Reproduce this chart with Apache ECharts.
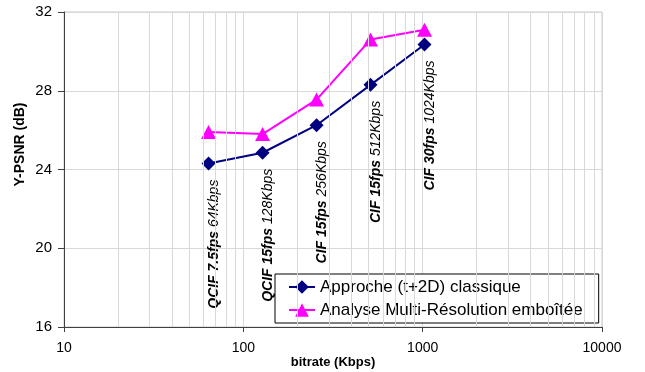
<!DOCTYPE html>
<html><head><meta charset="utf-8">
<script src="https://cdn.jsdelivr.net/npm/echarts@6/dist/echarts.min.js"></script>
<style>html,body{margin:0;padding:0;background:#fff}#c{width:645px;height:372px}</style>
</head><body><div id="c"></div>
<script>
const bitrates = [64, 128, 256, 512, 1024];
const formats = ['QCIF 7.5fps', 'QCIF 15fps', 'CIF 15fps', 'CIF 15fps', 'CIF 30fps'];
const rateLabels = ['64Kbps', '128Kbps', '256Kbps', '512Kbps', '1024Kbps'];
const classique = [24.3, 24.85, 26.25, 28.3, 30.35];
const multiRes = [25.9, 25.8, 27.55, 30.6, 31.1];
const seriesNames = ['Approche (t+2D) classique', 'Analyse Multi-Résolution emboîtée'];
const minorGrid = [20, 30, 40, 50, 60, 70, 80, 90, 200, 300, 400, 500, 600, 700, 800, 900, 2000, 3000, 4000, 5000, 6000, 7000, 8000, 9000];

const FONT = '"Liberation Sans", Arial, sans-serif';
const el = document.getElementById('c');
const chart = echarts.init(el, null, {renderer: 'canvas'});

const pts = a => a.map((v, i) => [bitrates[i], v]);

chart.setOption({
  animation: false,
  backgroundColor: '#fff',
  textStyle: {fontFamily: FONT},
  grid: {left: 64, right: 43, top: 12, bottom: 45, show: true, borderColor: '#c8c8c8', borderWidth: 1,
         containLabel: false, outerBoundsMode: 'none'},
  xAxis: {
    type: 'log', logBase: 10, min: 10, max: 10000,
    name: 'bitrate (Kbps)', nameLocation: 'middle', nameGap: 29, nameMoveOverlap: false,
    nameTextStyle: {fontFamily: FONT, fontSize: 13, fontWeight: 'bold', color: '#000'},
    axisLine: {show: true, lineStyle: {color: '#404040', width: 1}},
    axisTick: {show: true, length: 5, lineStyle: {color: '#404040'}},
    axisLabel: {fontFamily: FONT, fontSize: 14, color: '#000', margin: 14, formatter: v => String(Math.round(v))},
    splitLine: {show: true, lineStyle: {color: '#d9d9d9', width: 1}},
    minorTick: {show: false}, minorSplitLine: {show: false}
  },
  yAxis: {
    type: 'value', min: 16, max: 32, interval: 4,
    name: 'Y-PSNR (dB)', nameLocation: 'middle', nameGap: 37, nameMoveOverlap: false,
    nameTextStyle: {fontFamily: FONT, fontSize: 14, fontWeight: 'bold', color: '#000', padding: [0, 0, 0, 50]},
    axisLine: {show: true, lineStyle: {color: '#404040', width: 1}},
    axisTick: {show: true, length: 6, lineStyle: {color: '#404040'}},
    axisLabel: {fontFamily: FONT, fontSize: 15, color: '#000', margin: 12},
    splitLine: {show: true, lineStyle: {color: '#d9d9d9', width: 1}}
  },
  legend: {
    orient: 'vertical', left: 275, top: 274,
    padding: [4, 16, 4, 13], itemGap: 5, itemWidth: 26, itemHeight: 17,
    backgroundColor: '#fff', borderColor: '#000', borderWidth: 1,
    selectedMode: false,
    textStyle: {fontFamily: FONT, fontSize: 17, color: '#000', lineHeight: 18},
    data: seriesNames
  },
  series: [
    {
      type: 'line', data: [], z: 1, silent: true,
      markLine: {
        silent: true, symbol: 'none', animation: false,
        label: {show: false},
        lineStyle: {color: '#d9d9d9', width: 1, type: 'solid'},
        data: minorGrid.map(v => ({xAxis: v}))
      }
    },
    {
      name: seriesNames[0], type: 'line', z: 3, data: pts(classique),
      symbol: 'diamond', symbolSize: 14,
      itemStyle: {color: '#000080'}, lineStyle: {color: '#000080', width: 2},
      label: {
        show: true, position: 'bottom', distance: 9, rotate: 90, align: 'right', verticalAlign: 'middle',
        offset: [0, 6],
        fontFamily: FONT, fontSize: 14, color: '#000',
        formatter: p => '{b|' + formats[p.dataIndex] + '} {i|' + rateLabels[p.dataIndex] + '}',
        rich: {
          b: {fontFamily: FONT, fontSize: 14, fontWeight: 'bold', fontStyle: 'italic', color: '#000'},
          i: {fontFamily: FONT, fontSize: 14, fontStyle: 'italic', color: '#000'}
        }
      }
    },
    {
      name: seriesNames[1], type: 'line', z: 3, data: pts(multiRes),
      symbol: 'triangle', symbolSize: [15, 14],
      itemStyle: {color: '#ff00ff'}, lineStyle: {color: '#ff00ff', width: 2}
    }
  ]
});
</script></body></html>
